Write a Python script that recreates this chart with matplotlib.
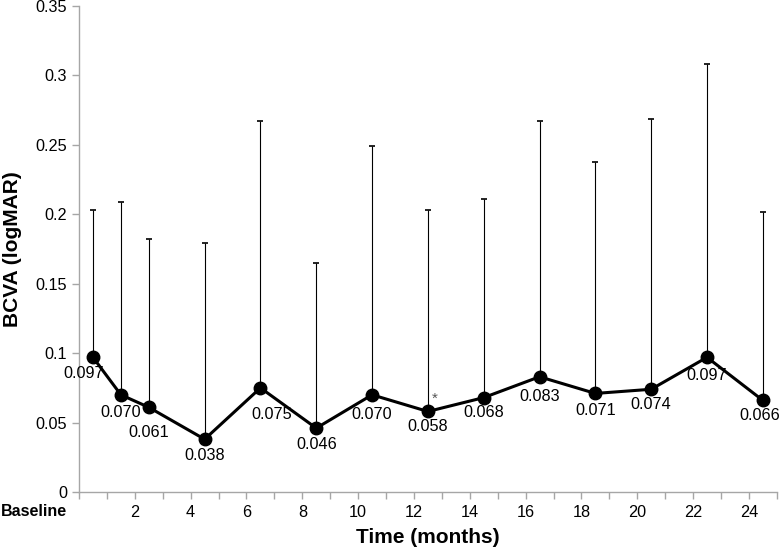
import matplotlib as mpl; mpl.use('agg')
import matplotlib.pyplot as plt

# data
months = [0.5, 1.5, 2.5, 4.5, 6.5, 8.5, 10.5, 12.5, 14.5, 16.5, 18.5, 20.5, 22.5, 24.5]
bcva = [0.097, 0.070, 0.061, 0.038, 0.075, 0.046, 0.070, 0.058, 0.068, 0.083, 0.071, 0.074, 0.097, 0.066]
upper = [0.203, 0.209, 0.182, 0.179, 0.267, 0.165, 0.249, 0.203, 0.211, 0.267, 0.238, 0.269, 0.308, 0.202]
labels = ["0.097", "0.070", "0.061", "0.038", "0.075", "0.046", "0.070", "0.058", "0.068",
          "0.083", "0.071", "0.074", "0.097", "0.066"]
# label offsets in points (dx, dy)
offsets = [(-7, -11.5), (0, -13), (0, -18), (0, -11.5), (8, -19), (0, -12), (0, -14.5),
           (0, -11), (0, -11), (0, -14.5), (0, -12), (0, -11), (0, -13), (-2.5, -11)]
xticks = list(range(0, 26))
xticklabels = [str(t) if (t % 2 == 0 and t > 0) else "" for t in xticks]
yticks = [0, 0.05, 0.1, 0.15, 0.2, 0.25, 0.3, 0.35]
yticklabels = ["0", "0.05", "0.1", "0.15", "0.2", "0.25", "0.3", "0.35"]

plt.rcParams['font.family'] = ['Liberation Sans', 'DejaVu Sans']

fig = plt.figure(figsize=(7.81, 5.49), dpi=100)
ax = fig.add_axes([0.1012, 0.1038, 0.8934, 0.8852])

yerr = [[0] * len(bcva), [u - b for u, b in zip(upper, bcva)]]
ax.errorbar(months, bcva, yerr=yerr, fmt='none', ecolor='black', elinewidth=0.8,
            capsize=2.5, capthick=1.2, zorder=2)
ax.plot(months, bcva, color='black', lw=2.2, marker='o', markersize=9, zorder=3)

for x, y, lab, (dx, dy) in zip(months, bcva, labels, offsets):
    ax.annotate(lab, (x, y), xytext=(dx, dy), textcoords='offset points',
                ha='center', va='center', fontsize=11.7)
ax.annotate('*', (12.5, 0.058), xytext=(5, 9), textcoords='offset points',
            ha='center', va='center', fontsize=11, color='#555555')

ax.set_xlim(0, 25)
ax.set_ylim(0, 0.35)
ax.set_xticks(xticks)
ax.set_xticklabels(xticklabels, fontsize=11.7)
ax.set_yticks(yticks)
ax.set_yticklabels(yticklabels, fontsize=11.7)
ax.text(-0.42, -0.0137, "Baseline", ha='right', va='center', fontsize=11.5,
        fontweight='bold')

for side in ['top', 'right']:
    ax.spines[side].set_visible(False)
for side in ['left', 'bottom']:
    ax.spines[side].set_color('#a6a6a6')
    ax.spines[side].set_linewidth(1.0)
ax.tick_params(axis='both', colors='#a6a6a6', labelcolor='black', length=5, width=1.0)
ax.tick_params(axis='x', pad=4)

ax.set_xlabel("Time (months)", fontsize=15, fontweight='bold', labelpad=6)
ax.set_ylabel("BCVA (logMAR)", fontsize=15, fontweight='bold', labelpad=10)

fig.savefig("out.png", dpi=100)
